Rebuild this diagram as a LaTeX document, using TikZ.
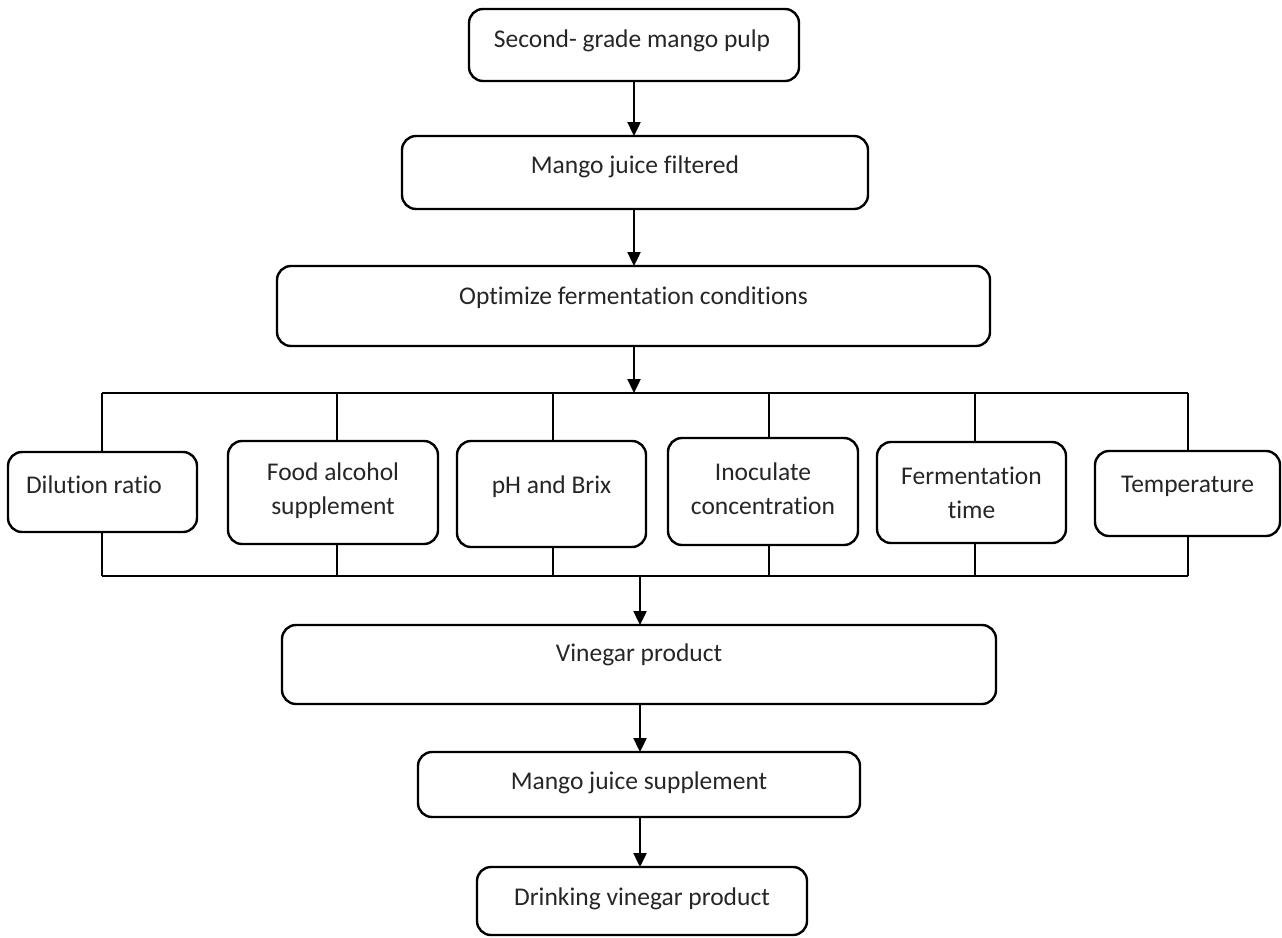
\documentclass[tikz,border=0pt]{standalone}
\usepackage{fontspec}
\setmainfont{Carlito}[Ligatures=NoCommon]
\usetikzlibrary{arrows.meta}
\begin{document}
\begin{tikzpicture}[x=1pt,y=-1pt,
  boxshape/.style={draw=black,line width=2.4pt,rounded corners=14pt,inner sep=0pt,outer sep=0pt},
  txt/.style={inner sep=0pt,text=black!85,align=center,font=\fontsize{25.5}{34}\selectfont},
  lnk/.style={line width=2.4pt,draw=black},
  arr/.style={lnk,-{Triangle[length=14pt,width=13pt]}}]
\useasboundingbox (0,0) rectangle (1282,937);
% main column boxes
\node[boxshape,minimum width=330pt,minimum height=72pt] (b1) at (634,45) {};
\node[boxshape,minimum width=466pt,minimum height=73pt] (b2) at (635,172.5) {};
\node[boxshape,minimum width=713pt,minimum height=80pt] (b3) at (633.5,306) {};
\node[boxshape,minimum width=714pt,minimum height=79pt] (b4) at (639,664.5) {};
\node[boxshape,minimum width=442pt,minimum height=65pt] (b5) at (639,784.5) {};
\node[boxshape,minimum width=330pt,minimum height=68pt] (b6) at (642,901) {};
% factor boxes
\node[boxshape,minimum width=189pt,minimum height=80pt] (f1) at (102.5,492) {};
\node[boxshape,minimum width=210pt,minimum height=103pt] (f2) at (333,492.5) {};
\node[boxshape,minimum width=189pt,minimum height=106pt] (f3) at (551.5,494) {};
\node[boxshape,minimum width=190pt,minimum height=107pt] (f4) at (763,491.5) {};
\node[boxshape,minimum width=189pt,minimum height=101pt] (f5) at (971.5,492.5) {};
\node[boxshape,minimum width=185pt,minimum height=85pt] (f6) at (1187.5,493.5) {};
% texts
\node[txt] (t1) at (632,41) {Second- grade mango pulp};
\node[txt] (t2) at (635,167) {Mango juice filtered};
\node[txt] (t3) at (633.5,298) {Optimize fermentation conditions};
\node[txt] (t4) at (639,655) {Vinegar product};
\node[txt] (t5) at (639,783) {Mango juice supplement};
\node[txt] (t6) at (642,899) {Drinking vinegar product};
\node[txt] (s1) at (94,485) {Dilution ratio};
\node[txt] (s2) at (333,491) {Food alcohol\\supplement};
\node[txt] (s3) at (551.5,487) {pH and Brix};
\node[txt] (s4) at (763,488.5) {Inoculate\\concentration};
\node[txt] (s5) at (971.5,492.5) {Fermentation\\time};
\node[txt] (s6) at (1187.5,486) {Temperature};
% bus coordinates
\coordinate (d1) at (102,393);
\coordinate (d2) at (337,393);
\coordinate (d3) at (553,393);
\coordinate (d4) at (769,393);
\coordinate (d5) at (975,393);
\coordinate (d6) at (1188,393);
\coordinate (bb) at (640,576);
% arrows main column
\draw[arr] (b1.south) -- (b1.south |- b2.north);
\draw[arr] (b2.south -| b1.south) -- (b1.south |- b3.north);
\draw[arr] (b3.south -| b1.south) -- (b1.south |- d1);
\draw[arr] (bb) -- (bb |- b4.north);
\draw[arr] (bb |- b4.south) -- (bb |- b5.north);
\draw[arr] (bb |- b5.south) -- (bb |- b6.north);
% bus lines
\draw[lnk] (d1) -- (d6);
\draw[lnk] (d1 |- bb) -- (d6 |- bb);
\foreach \i in {1,...,6}{
  \draw[lnk] (d\i) -- (d\i |- f\i.north);
  \draw[lnk] (d\i |- f\i.south) -- (d\i |- bb);
}
\end{tikzpicture}
\end{document}
